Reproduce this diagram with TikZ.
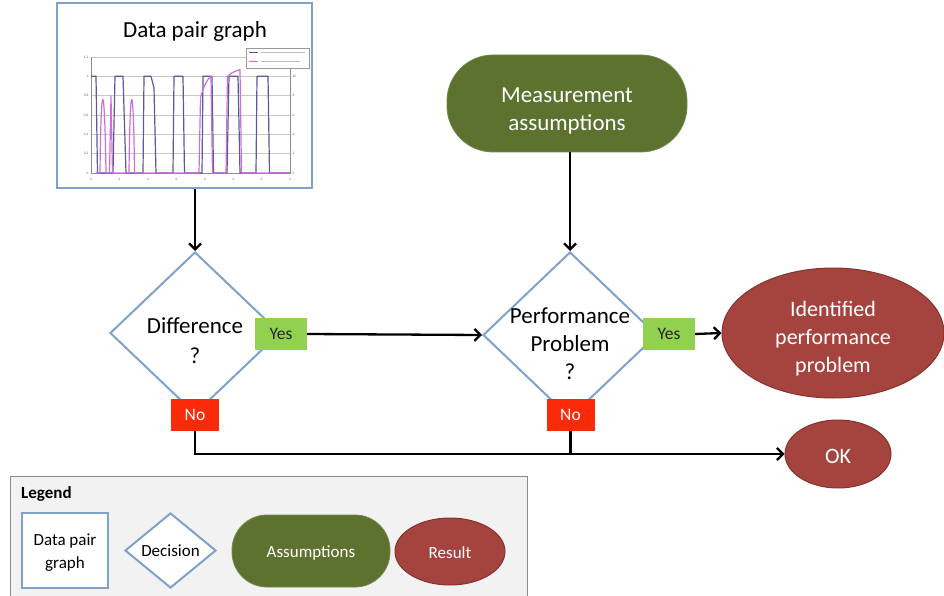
\documentclass[tikz,border=0pt]{standalone}
\usepackage{fontspec}
\setmainfont{Carlito}
\usetikzlibrary{shapes.geometric,arrows.meta}

\definecolor{frameblue}{HTML}{7EA2CB}
\definecolor{assumgreen}{HTML}{5E722F}
\definecolor{resultred}{HTML}{A5443F}
\definecolor{resultedge}{HTML}{86322E}
\definecolor{yesgreen}{HTML}{92D050}
\definecolor{nored}{HTML}{FA2A0A}
\definecolor{legendgrey}{HTML}{F2F2F2}
\definecolor{legendedge}{HTML}{8C8C8C}
\definecolor{seriesblue}{HTML}{5A5A96}
\definecolor{seriespink}{HTML}{CC6FDB}
\definecolor{gridgrey}{HTML}{C8C8C8}

\begin{document}
\begin{tikzpicture}[x=1pt,y=-1pt,
  bigtxt/.style={font=\fontsize{23}{28}\selectfont, align=center, inner sep=0pt},
  smalltxt/.style={font=\fontsize{17}{23}\selectfont, align=center, inner sep=0pt},
  graphbox/.style={rectangle, draw=frameblue, line width=2.2pt, fill=white, inner sep=0pt},
  decision/.style={diamond, draw=frameblue, line width=2pt, fill=white, inner sep=0pt},
  assume/.style={rectangle, fill=assumgreen, draw=assumgreen!85!white, line width=0.8pt, inner sep=0pt},
  result/.style={ellipse, fill=resultred, draw=resultedge, line width=1pt, inner sep=0pt},
  tagyes/.style={rectangle, fill=yesgreen, inner sep=0pt, minimum width=52pt, minimum height=32pt,
    font=\fontsize{17.5}{20}\selectfont, text=black!85},
  tagno/.style={rectangle, fill=nored, inner sep=0pt, minimum width=48pt, minimum height=32pt,
    font=\fontsize{17.5}{20}\selectfont, text=white},
  flow/.style={line width=2.3pt, -{Straight Barb[length=6pt,width=12pt]}},
  plain/.style={line width=2.3pt},
  ticklbl/.style={font=\fontsize{3.5}{4}\selectfont, text=black!60, inner sep=0.5pt}
]
\useasboundingbox (0,0) rectangle (944,596);

% ---------- data pair graph panel ----------
\node[graphbox, minimum width=255pt, minimum height=185pt] (gbox) at (184.5,95.5) {};
\node[bigtxt] (gtitle) at (195,31) {Data pair graph};

% plot area grid
\foreach \yy in {57,76.3,95.7,115,134.3,153.7} \draw[gridgrey, line width=0.5pt] (91,\yy) -- (290,\yy);
\draw[black!45, line width=0.6pt] (91,57) -- (91,173) -- (290,173) -- (290,57);
% left / right tick labels
\foreach \yy/\lab in {57/1.2,76.3/1,95.7/0.8,115/0.6,134.3/0.4,153.7/0.2,173/0}
  \node[ticklbl, anchor=east] at (89,\yy) {\lab};
\foreach \yy/\lab in {57/12,76.3/10,95.7/8,115/6,134.3/4,153.7/2,173/0}
  \node[ticklbl, anchor=west] at (292,\yy) {\lab};
% date labels
\foreach \i/\lab in {0/4/18,1/4/19,2/4/20,3/4/21,4/4/22,5/4/23,6/4/24,7/4/25}
  \node[ticklbl] at ({91+\i*28.43},179) {\lab};

% series 1: on/off pulses
\draw[seriesblue, line width=1.2pt, line join=round]
  (91,76.3) -- (96,76.3) -- (97.5,173) -- (113,173) -- (115,76.3) -- (123,76.3) -- (126,173)
  -- (143,173) -- (144,76.3) -- (151,76.3) -- (154,88) -- (156,173)
  -- (173,173) -- (174,76.3) -- (183,76.3) -- (184.5,173)
  -- (202,173) -- (203,76.3) -- (212,76.3) -- (213.5,173)
  -- (227,173) -- (229,76.3) -- (238,76.3) -- (240,173)
  -- (256,173) -- (257,76.3) -- (268,76.3) -- (269.5,173) -- (290,173);
% series 2
\draw[seriespink, line width=1.2pt, line join=round]
  (96,173) -- (100,173) .. controls (101,75) and (104.5,75) .. (106,173)
  -- (109.5,173) -- (111,96) -- (112.5,173)
  -- (129,173) .. controls (130,75) and (133.5,75) .. (134.5,173)
  -- (199,173) -- (200.5,98) .. controls (203,88) and (207,79) .. (211,76.3) -- (212.5,173)
  -- (226,173) -- (227.5,76.3) .. controls (231,72.5) and (236,71) .. (240,69.5) -- (241.5,173)
  -- (290,173);
% series key
\draw[black!40, line width=0.5pt, fill=white] (246,48) rectangle (309,68);
\draw[seriesblue, line width=1pt] (249,53) -- (258,53);
\draw[seriespink, line width=1pt] (249,62) -- (258,62);
\draw[black!25, line width=1pt] (261,53) -- (305,53);
\draw[black!25, line width=1pt] (261,62) -- (300,62);

% ---------- assumptions ----------
\node[assume, rounded corners=46pt, minimum width=240pt, minimum height=97pt] (meas) at (567,103.5) {};
\node[bigtxt, text=white] (meastxt) at (567,111) {Measurement\\assumptions};

% ---------- decisions ----------
\node[decision, minimum width=170pt, minimum height=162pt] (d1) at (195,333) {};
\node[bigtxt, font=\fontsize{23}{30}\selectfont] (d1txt) at (195,341) {Difference\\?};

\node[decision, minimum width=174pt, minimum height=166pt] (d2) at (570,335) {};
\node[bigtxt] (d2txt) at (570,344) {Performance\\Problem\\?};

\node[tagyes] (yes1) at (281,334) {Yes};
\node[tagno]  (no1)  at (195,415) {No};
\node[tagyes] (yes2) at (669,334) {Yes};
\node[tagno]  (no2)  at (570.5,415) {No};

% ---------- results ----------
\node[result, minimum width=222pt, minimum height=130pt] (ident) at (833,333) {};
\node[bigtxt, text=white, font=\fontsize{22}{28}\selectfont] (identtxt) at (833,339) {Identified\\performance\\problem};
\node[result, minimum width=106pt, minimum height=68pt] (ok) at (838,454) {};
\node[bigtxt, text=white, font=\fontsize{22}{28}\selectfont] (oktxt) at (838,456) {OK};

% ---------- connectors ----------
\coordinate (join) at (570.5,455);
\draw[flow] (gbox.south -| d1.north) -- (d1.north);
\draw[flow] (meas.south -| d2.north) -- (d2.north);
\draw[flow] (yes1.east) -- (d2.west);
\draw[flow] (yes2.east) -- (ident.west);
\draw[flow] (no1.south) |- (ok.west);
\draw[plain] (no2.south) -- (join);

% ---------- legend ----------
\node[rectangle, draw=legendedge, line width=1pt, fill=legendgrey, inner sep=0pt,
  minimum width=517pt, minimum height=130pt] (legend) at (268.5,541) {};
\node[font=\fontsize{17}{20}\selectfont\bfseries, anchor=west, inner sep=0pt] (legtitle) at (21,494) {Legend};
\node[graphbox, minimum width=86pt, minimum height=75pt] (lgraph) at (65,550.5) {};
\node[smalltxt] (lgraphtxt) at (65,553) {Data pair\\graph};
\node[decision, minimum width=91pt, minimum height=75pt] (ldec) at (170.5,550.5) {};
\node[smalltxt] (ldectxt) at (170.5,551) {Decision};
\node[assume, rounded corners=35pt, minimum width=158pt, minimum height=72pt] (lassume) at (311,551) {};
\node[smalltxt, text=white] (lassumetxt) at (311,553) {Assumptions};
\node[result, minimum width=110pt, minimum height=67pt] (lresult) at (450,551.5) {};
\node[smalltxt, text=white] (lresulttxt) at (450,553) {Result};
\end{tikzpicture}
\end{document}
